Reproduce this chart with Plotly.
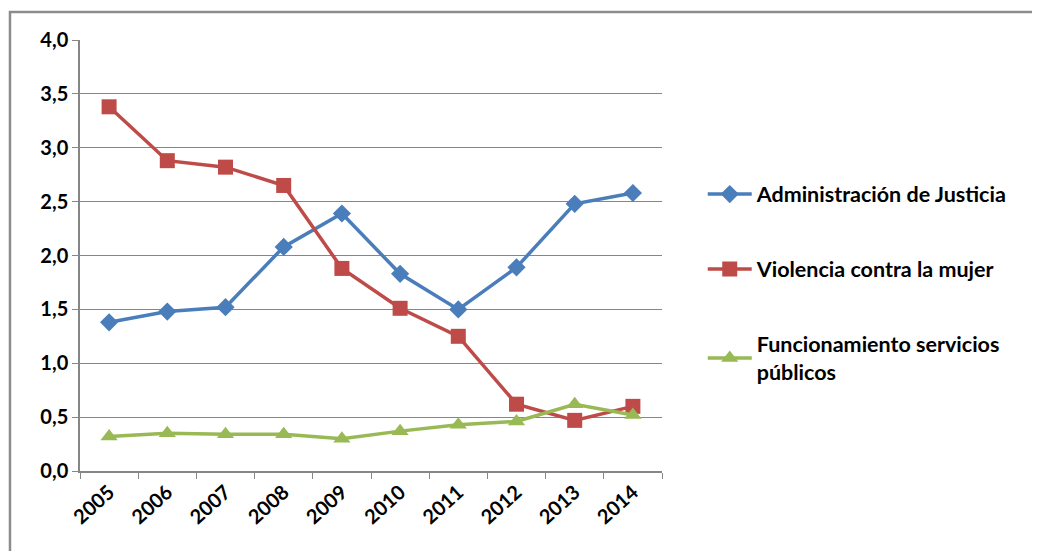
import plotly.graph_objects as go

years = ["2005", "2006", "2007", "2008", "2009", "2010", "2011", "2012", "2013", "2014"]
justicia = [1.38, 1.48, 1.52, 2.08, 2.39, 1.83, 1.50, 1.89, 2.48, 2.58]
violencia = [3.38, 2.88, 2.82, 2.65, 1.88, 1.51, 1.25, 0.62, 0.47, 0.60]
servicios = [0.32, 0.35, 0.34, 0.34, 0.30, 0.37, 0.43, 0.46, 0.62, 0.52]

names = ["Administración de Justicia", "Violencia contra la mujer", "Funcionamiento servicios<br>públicos"]
colors = ["#4A7EBB", "#BE4B48", "#98B954"]
symbols = ["diamond", "square", "triangle-up"]
sizes = [14, 15, 15]
series = [justicia, violencia, servicios]

FONT = "Lato"
tf = dict(family=FONT, size=20, color="#000000", weight="bold")
lf = dict(family=FONT, size=21.5, color="#000000", weight="bold")
fig = go.Figure()
for i, (nm, vals) in enumerate(zip(names, series)):
    fig.add_trace(go.Scatter(
        x=years, y=vals, name=nm, mode="lines+markers",
        line=dict(color=colors[i], width=3.5),
        marker=dict(symbol=symbols[i], size=sizes[i], color=colors[i]),
        legendgroup=str(i),
    ))

fig.update_layout(
    width=1040, height=551,
    margin=dict(l=72, r=386, t=32, b=88),
    paper_bgcolor="white", plot_bgcolor="white",
    font=tf,
    showlegend=True,
    legend=dict(x=1.07, y=0.69, xanchor="left", yanchor="top",
                tracegroupgap=44, font=lf,
                itemwidth=44, traceorder="grouped"),
    xaxis=dict(type="category", showgrid=False, showline=True, linecolor="#868686",
               linewidth=1.5, ticks="outside", ticklen=6, tickcolor="#868686",
               tickangle=-42, tickfont=tf,
               tickson="boundaries", range=[-0.5, 9.5]),
    yaxis=dict(range=[0, 4.0], dtick=0.5, tickformat=".1f", showgrid=True,
               gridcolor="#868686", gridwidth=1, showline=True, linecolor="#868686",
               linewidth=1.5, ticks="outside", ticklen=6, tickcolor="#868686",
               tickfont=tf, zeroline=False),
    separators=",.",
)

fig.add_shape(type="rect", xref="paper", yref="paper",
              x0=-0.1203, x1=1.8, y0=-0.3, y1=1.065,
              line=dict(color="#8C8C8C", width=2.5), layer="below")

fig.write_html("out.html")
